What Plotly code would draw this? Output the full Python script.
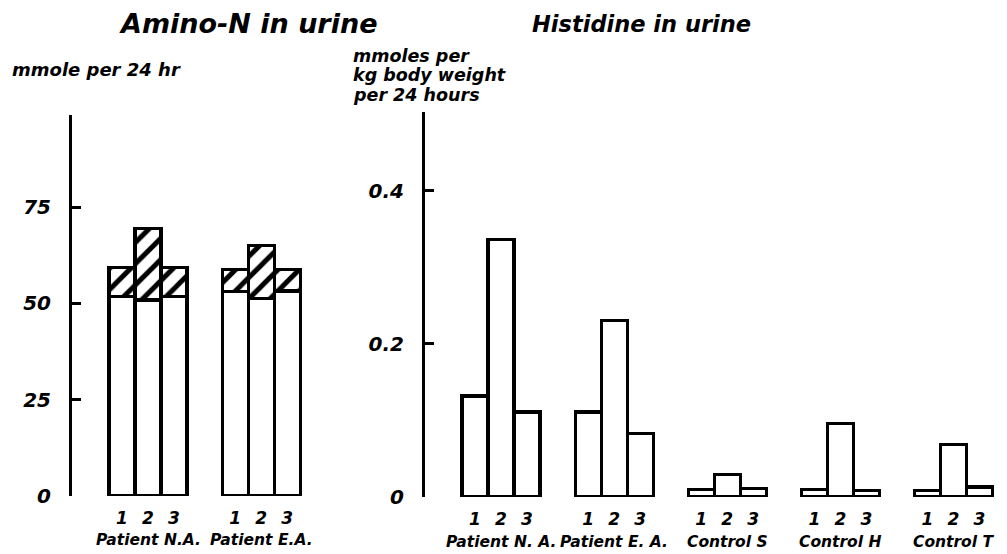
import plotly.graph_objects as go

# ---- data ----
days = ["1", "2", "3"]

amino_groups = ["Patient N.A.", "Patient E.A."]
amino_na_base = [51.7, 50.9, 51.7]      # white part
amino_na_total = [59.3, 69.4, 59.3]     # top of hatched part
amino_ea_base = [53.0, 51.3, 53.2]
amino_ea_total = [58.8, 65.1, 58.8]

hist_groups = ["Patient N. A.", "Patient E. A.", "Control S", "Control H", "Control T"]
hist_na = [0.132, 0.336, 0.111]
hist_ea = [0.111, 0.231, 0.083]
hist_s = [0.010, 0.029, 0.011]
hist_h = [0.010, 0.096, 0.008]
hist_t = [0.009, 0.069, 0.013]

amino_ticks = [0, 25, 50, 75]
hist_ticks = [0, 0.2, 0.4]
hist_ticktext = ["0", "0.2", "0.4"]

hist_unit_lines = ["mmoles per", "kg body weight", "per 24 hours"]

# ---- layout helpers (pixel geometry of the 1007x554 canvas) ----
W, H = 1007, 554
STEP = 4.35          # group spacing in bar widths
PX_PER_UNIT = 26     # one bar width in px
FONT = "DejaVu Sans"


def xrange_for(px0, px1, center_px):
    # group 0 centre (x=1) sits at center_px
    return [1 + (px0 - center_px) / PX_PER_UNIT, 1 + (px1 - center_px) / PX_PER_UNIT]


def pos(g):
    return [g * STEP + d for d in range(3)]


def bi(size):
    return dict(family=FONT, size=size, color="black", style="italic", weight="bold")


fig = go.Figure()

line = dict(color="black", width=3.2)

# left panel: stacked white + hatched
amino_base = [amino_na_base, amino_ea_base]
amino_total = [amino_na_total, amino_ea_total]
for g in range(len(amino_groups)):
    fig.add_trace(go.Bar(
        x=pos(g), y=amino_base[g], width=1, xaxis="x", yaxis="y",
        marker=dict(color="white", line=line), showlegend=False))
    fig.add_trace(go.Bar(
        x=pos(g), y=[t - b for t, b in zip(amino_total[g], amino_base[g])],
        width=1, xaxis="x", yaxis="y",
        marker=dict(color="white", line=line,
                    pattern=dict(shape="/", fgcolor="black", bgcolor="white",
                                 fgopacity=1, size=15, solidity=0.33)),
        showlegend=False))

# right panel: histidine
hist_vals = [hist_na, hist_ea, hist_s, hist_h, hist_t]
for g, vals in enumerate(hist_vals):
    fig.add_trace(go.Bar(
        x=pos(g), y=vals, width=1, xaxis="x2", yaxis="y2",
        marker=dict(color="white", line=line), showlegend=False))

# automargin off: the template turns it on and it squeezes the plot area
x_common = dict(showline=False, zeroline=False, showgrid=False, ticks="",
                tickfont=bi(17), ticklabelstandoff=10, automargin=False)
y_common = dict(showline=True, linecolor="black", linewidth=3, zeroline=False,
                showgrid=False, ticks="inside", ticklen=9, tickwidth=2.8,
                tickcolor="black", tickfont=bi(20), ticklabelstandoff=14,
                automargin=False)

fig.update_layout(
    width=W, height=H,
    margin=dict(l=0, r=0, t=0, b=0),
    paper_bgcolor="white", plot_bgcolor="white",
    barmode="stack",
    xaxis=dict(domain=[72 / W, 330 / W], range=xrange_for(72, 330, 148),
               tickvals=pos(0) + pos(1), ticktext=days * 2, anchor="y", **x_common),
    yaxis=dict(domain=[1 - 496 / H, 1 - 115 / H], range=[0, 98.9],
               tickvals=amino_ticks, anchor="x", **y_common),
    xaxis2=dict(domain=[425 / W, 1.0], range=xrange_for(425, W, 501),
                tickvals=sum((pos(g) for g in range(5)), []), ticktext=days * 5,
                anchor="y2", **x_common),
    yaxis2=dict(domain=[1 - 497 / H, 1 - 112 / H], range=[0, 0.503],
                tickvals=hist_ticks, ticktext=hist_ticktext, anchor="x2", **y_common),
    font=dict(family=FONT, color="black"),
)

ann = [
    dict(text="Amino-N in urine", x=248 / W, y=1 - 24 / H, font=bi(27)),
    dict(text="Histidine in urine", x=641 / W, y=1 - 24 / H, font=bi(22.5)),
    dict(text="mmole per 24 hr", x=10 / W, y=1 - 69 / H, xanchor="left", font=bi(18)),
]
for i, txt in enumerate(hist_unit_lines):
    ann.append(dict(text=txt, x=351 / W, y=1 - (56 + 19.5 * i) / H,
                    xanchor="left", font=bi(17.5)))
for g, name in enumerate(amino_groups):
    ann.append(dict(text=name, x=g * STEP + 1, xref="x", y=1 - 540 / H, font=bi(15.5)))
for g, name in enumerate(hist_groups):
    ann.append(dict(text=name, x=g * STEP + 1, xref="x2", y=1 - 542 / H, font=bi(15.5)))

for a in ann:
    a.setdefault("xref", "paper")
    a.setdefault("yref", "paper")
    a.setdefault("xanchor", "center")
    a.setdefault("yanchor", "middle")
    a["showarrow"] = False
    fig.add_annotation(**a)

# pin the plot to the window corner so the default body margin doesn't shift it
pin = ("var d=document.getElementById('{plot_id}');"
       "d.style.position='fixed';d.style.left='0px';d.style.top='0px';"
       "document.body.style.margin='0';")
fig.write_html("out.html", post_script=pin, config={"displayModeBar": False})
